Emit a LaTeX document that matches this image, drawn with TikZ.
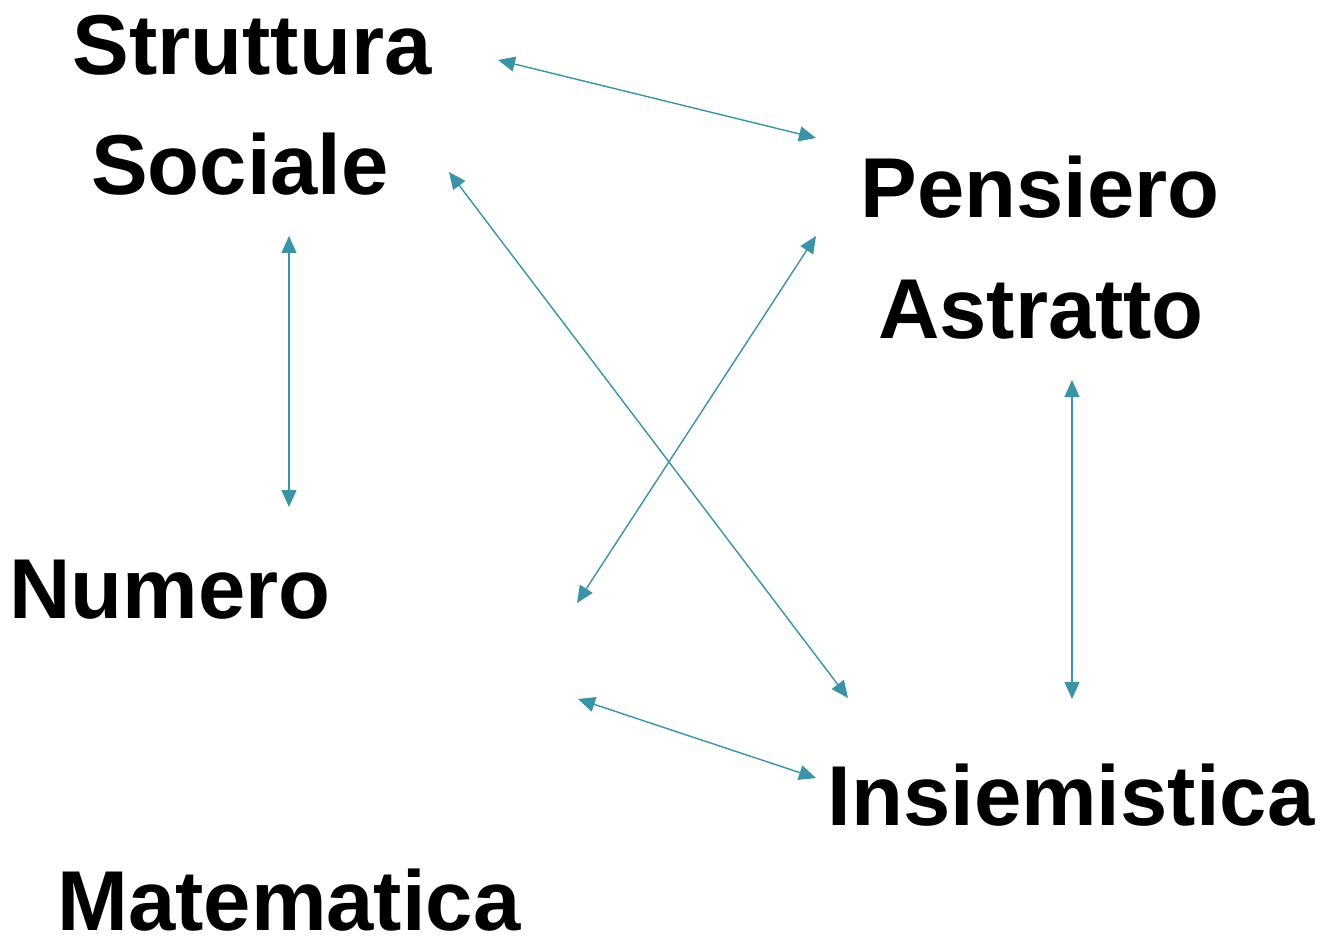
\documentclass[tikz,border=0pt]{standalone}
\usepackage{fontspec}
\setmainfont{Liberation Sans}
\usetikzlibrary{arrows.meta}
\definecolor{linkc}{HTML}{3A93A6}
\begin{document}
\begin{tikzpicture}[x=1pt,y=-1pt,
  lbl/.style={font=\fontsize{85}{85}\selectfont\bfseries, anchor=base, inner sep=0pt},
  tipx/.style={Triangle[length=17pt,width=15pt]},
  link/.style={draw=linkc, line width=1.4pt, {Triangle[length=17pt,width=15pt]}-{Triangle[length=17pt,width=15pt]}, fill=linkc}]
\useasboundingbox (0,0) rectangle (1326,944);
\node[lbl] (s1) at (252,75) {Struttura};
\node[lbl] (s2) at (240,195) {Sociale};
\node[lbl] (p1) at (1040,218) {Pensiero};
\node[lbl] (p2) at (1041,338) {Astratto};
\node[lbl] (nu) at (170,618) {Numero};
\node[lbl] (in) at (1071,825) {Insiemistica};
\node[lbl] (ma) at (289,930) {Matematica};
\coordinate (a1) at (498,60);  \coordinate (b1) at (816,138);
\coordinate (a2) at (289,236); \coordinate (b2) at (289,507);
\coordinate (a3) at (449,172); \coordinate (b3) at (848,698);
\coordinate (a4) at (816,236); \coordinate (b4) at (577,603);
\coordinate (a5) at (1072,380); \coordinate (b5) at (1072,699);
\coordinate (a6) at (578,699); \coordinate (b6) at (816,778);
\draw[link] (a1) -- (b1);
\draw[link] (a2) -- (b2);
\draw[link] (a3) -- (b3);
\draw[link] (a4) -- (b4);
\draw[link] (a5) -- (b5);
\draw[link] (a6) -- (b6);
\end{tikzpicture}
\end{document}
